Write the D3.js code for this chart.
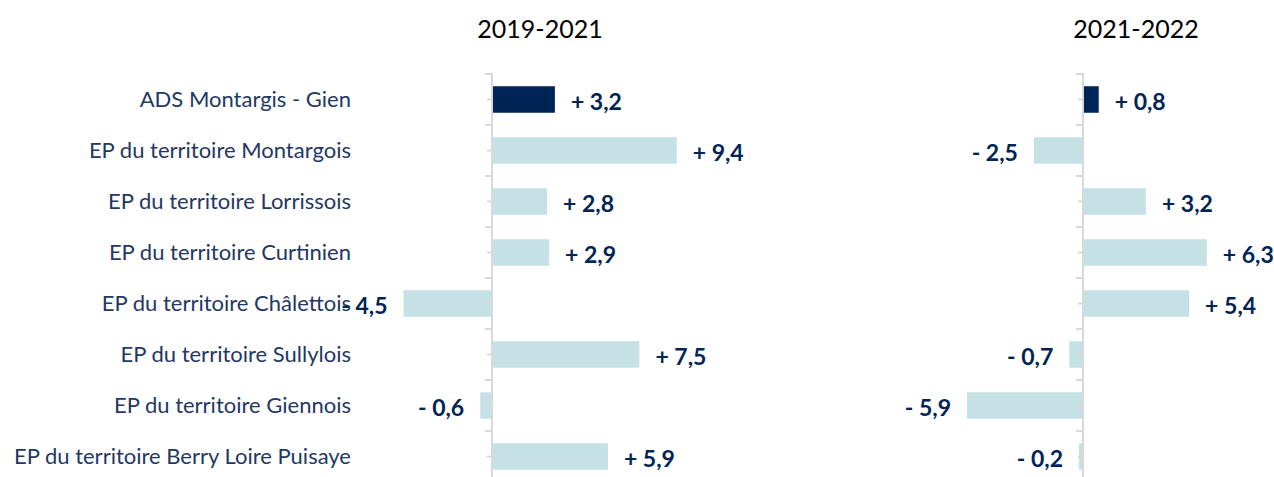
<!DOCTYPE html>
<html>
<head>
<meta charset="utf-8">
<script src="https://cdn.jsdelivr.net/npm/d3@7"></script>
<style>
  body { margin: 0; background: #fff; }
  svg { display: block; }
</style>
</head>
<body>
<svg class="main"></svg>
<script>
let categories = [
  'ADS Montargis - Gien',
  'EP du territoire Montargois',
  'EP du territoire Lorrissois',
  'EP du territoire Curtinien',
  'EP du territoire Châlettois',
  'EP du territoire Sullylois',
  'EP du territoire Giennois',
  'EP du territoire Berry Loire Puisaye'
];
let values2019 = [3.2, 9.4, 2.8, 2.9, -4.5, 7.5, -0.6, 5.9];
let values2021 = [0.8, -2.5, 3.2, 6.3, 5.4, -0.7, -5.9, -0.2];
let titles = ['2019-2021', '2021-2022'];

let w = 1274, h = 477;
let navy = '#002456', light = '#c5e1e5', axisGrey = '#d9d9d9';
let fontFam = 'Lato, "Open Sans", sans-serif';

let svg = d3.select('.main').attr('width', w).attr('height', h);

let y = d3.scaleBand()
  .domain(categories)
  .range([74, 482])
  .paddingInner(0.48)
  .paddingOuter(0.24);

let fmt = v => (v < 0 ? '- ' : '+ ') + d3.format('.1f')(Math.abs(v)).replace('.', ',');

let drawPanel = (values, x, title, titleX) => {
  let g = svg.append('g');
  let x0 = x(0);

  g.append('text')
    .attr('x', titleX).attr('y', 38)
    .attr('text-anchor', 'middle')
    .attr('font-family', fontFam)
    .attr('font-size', 25)
    .attr('fill', '#000')
    .text(title);

  g.selectAll('rect')
    .data(values)
    .enter()
    .append('rect')
    .attr('x', d => x(Math.min(0, d)))
    .attr('y', (d, i) => y(categories[i]))
    .attr('width', d => Math.abs(x(d) - x0))
    .attr('height', y.bandwidth())
    .attr('fill', (d, i) => i === 0 ? navy : light);

  // axis: minor ticks at band centers, major at boundaries
  let axis = g.append('g')
    .attr('transform', `translate(${x0},0)`)
    .call(d3.axisLeft(y).tickSize(5).tickFormat('').tickSizeOuter(0));
  axis.select('.domain').remove();
  axis.selectAll('line').attr('stroke', axisGrey).attr('stroke-width', 2);

  let bounds = d3.range(categories.length + 1).map(i => y.range()[0] + i * y.step());
  g.selectAll('line.major')
    .data(bounds)
    .enter()
    .append('line')
    .attr('class', 'major')
    .attr('x1', x0 - 7).attr('x2', x0)
    .attr('y1', d => d).attr('y2', d => d)
    .attr('stroke', axisGrey).attr('stroke-width', 2);

  g.append('line')
    .attr('x1', x0).attr('x2', x0)
    .attr('y1', y.range()[0] - 1).attr('y2', y.range()[1])
    .attr('stroke', axisGrey).attr('stroke-width', 2);

  g.selectAll('text.val')
    .data(values)
    .enter()
    .append('text')
    .attr('class', 'val')
    .attr('x', d => d < 0 ? x(d) - 16 : x(d) + 16)
    .attr('y', (d, i) => y(categories[i]) + y.bandwidth() / 2 + 2)
    .attr('dy', '0.35em')
    .attr('text-anchor', d => d < 0 ? 'end' : 'start')
    .attr('font-family', fontFam)
    .attr('font-weight', 'bold')
    .attr('font-size', 23)
    .attr('fill', navy)
    .text(d => fmt(d));

  return g;
};

let k = 19.65;
let xLeft = d3.scaleLinear().domain([-5, 10]).range([492 - 5 * k, 492 + 10 * k]);
let xRight = d3.scaleLinear().domain([-6, 8]).range([1083 - 6 * k, 1083 + 8 * k]);

// category labels
svg.append('g')
  .selectAll('text')
  .data(categories)
  .enter()
  .append('text')
  .attr('x', 351)
  .attr('y', d => y(d) + y.bandwidth() / 2)
  .attr('dy', '0.35em')
  .attr('text-anchor', 'end')
  .attr('font-family', fontFam)
  .attr('font-size', 22)
  .attr('fill', '#1f3864')
  .text(d => d);

drawPanel(values2019, xLeft, titles[0], 540);
drawPanel(values2021, xRight, titles[1], 1136);
</script>
</body>
</html>
